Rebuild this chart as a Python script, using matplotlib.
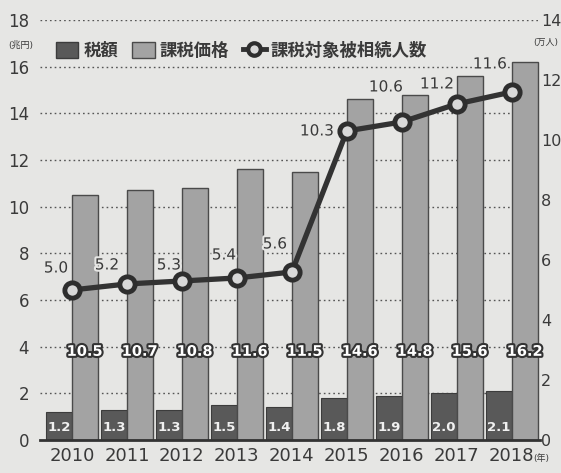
import matplotlib
matplotlib.use("Agg")
import matplotlib.pyplot as plt
import matplotlib.patheffects as pe
from matplotlib.patches import Patch
from matplotlib.lines import Line2D
from matplotlib.transforms import blended_transform_factory

plt.rcParams['font.family'] = ['DejaVu Sans', 'Noto Sans CJK JP']

years = ['2010', '2011', '2012', '2013', '2014', '2015', '2016', '2017', '2018']
tax = [1.2, 1.3, 1.3, 1.5, 1.4, 1.8, 1.9, 2.0, 2.1]
taxable_price = [10.5, 10.7, 10.8, 11.6, 11.5, 14.6, 14.8, 15.6, 16.2]
decedents = [5.0, 5.2, 5.3, 5.4, 5.6, 10.3, 10.6, 11.2, 11.6]
tax_label = '税額'
price_label = '課税価格'
people_label = '課税対象被相続人数'
left_unit = '(兆円)'
right_unit = '(万人)'
year_unit = '(年)'
left_ticks = [0, 2, 4, 6, 8, 10, 12, 14, 16, 18]
right_ticks = [0, 2, 4, 6, 8, 10, 12, 14]

bg = '#e6e6e4'
dark = '#595959'
light = '#a3a3a3'
edge = '#4a4a4a'
txt = '#3a3a3a'

fig = plt.figure(figsize=(5.61, 4.73), dpi=100, facecolor=bg)
ax = fig.add_axes([0.0713, 0.0698, 0.891, 0.888])
ax.set_facecolor(bg)
ax2 = ax.twinx()

x = list(range(len(years)))
w = 0.47
xd = [i - w / 2 for i in x]
xl = [i + w / 2 for i in x]

ax.bar(xd, tax, width=w, color=dark, edgecolor='#3c3c3c', linewidth=0.8, zorder=3)
ax.bar(xl, taxable_price, width=w, color=light, edgecolor=edge, linewidth=1.0, zorder=3)

ax.set_xlim(-0.58, 8.51)
ax.set_ylim(0, 18)
ax.set_yticks(left_ticks)
for t in left_ticks[1:]:
    ax.axhline(t, color='#555555', linestyle=(0, (1.2, 2.2)), linewidth=1.0, zorder=1)

for s in ['top', 'right', 'left']:
    ax.spines[s].set_visible(False)
    ax2.spines[s].set_visible(False)
ax2.spines['bottom'].set_visible(False)
ax.spines['bottom'].set_color('#333333')
ax.spines['bottom'].set_linewidth(2)
ax.spines['bottom'].set_zorder(5)

ax.tick_params(axis='y', length=0, pad=8, labelsize=12, labelcolor=txt)
ax.tick_params(axis='x', length=0, pad=5, labelsize=13, labelcolor=txt)
ax.set_xticks(x)
ax.set_xticklabels(years)

ax2.set_ylim(0, 14)
ax2.set_yticks(right_ticks)
ax2.tick_params(axis='y', length=0, pad=1, labelsize=11.5, labelcolor=txt)

ax2.plot(x, decedents, color='#333333', linewidth=3.8, marker='o', markersize=11,
         markerfacecolor='#d8d8d8', markeredgecolor='#2e2e2e', markeredgewidth=3.5, zorder=6)

stroke = [pe.withStroke(linewidth=3, foreground='#333333')]
for i, v in enumerate(taxable_price):
    ax.text(xl[i], 3.8, f'{v:.1f}', ha='center', va='center', fontsize=10.5,
            color='white', fontweight='bold', path_effects=stroke, zorder=7)
for i, v in enumerate(tax):
    ax.text(xd[i], 0.55, f'{v:.1f}', ha='center', va='center', fontsize=9.5,
            color='#f0f0f0', fontweight='bold', zorder=7)

offsets = [(-16, 22), (-20, 19), (-13, 16), (-13, 23), (-17, 28), (-30, 0), (-16, 35), (-20, 20), (-22, 28)]
for i, v in enumerate(decedents):
    dx, dy = offsets[i]
    ax2.annotate(f'{v:.1f}', (x[i], v), xytext=(dx, dy), textcoords='offset pixels',
                 ha='center', va='center', fontsize=11, color=txt, zorder=8,
                 path_effects=[pe.withStroke(linewidth=3, foreground=bg)])

handles = [Patch(facecolor=dark, edgecolor='#3c3c3c'),
           Patch(facecolor=light, edgecolor=edge),
           Line2D([], [], color='#333333', linewidth=3.5, marker='o', markersize=9,
                  markerfacecolor='#d8d8d8', markeredgecolor='#2e2e2e', markeredgewidth=3)]
leg = ax.legend(handles, [tax_label, price_label, people_label], ncol=3, frameon=False,
                loc='upper left', bbox_to_anchor=(0.0, 0.985), fontsize=12.5,
                handlelength=1.3, handleheight=1.0, handletextpad=0.3, columnspacing=0.8,
                labelcolor=txt)
leg.set_zorder(10)
for t in leg.get_texts():
    t.set_fontweight('bold')

fig.text(8 / 561, 1 - 45 / 473, left_unit, fontsize=6.5, color=txt, va='center', ha='left')
fig.text(558 / 561, 1 - 42 / 473, right_unit, fontsize=6.5, color=txt, va='center', ha='right')

tr = blended_transform_factory(ax.transData, ax.transAxes)
ax.text(8 + 0.39, -0.045, year_unit, transform=tr, fontsize=6.5, color=txt, ha='left', va='center')

fig.savefig('out.png', dpi=100, facecolor=bg)
